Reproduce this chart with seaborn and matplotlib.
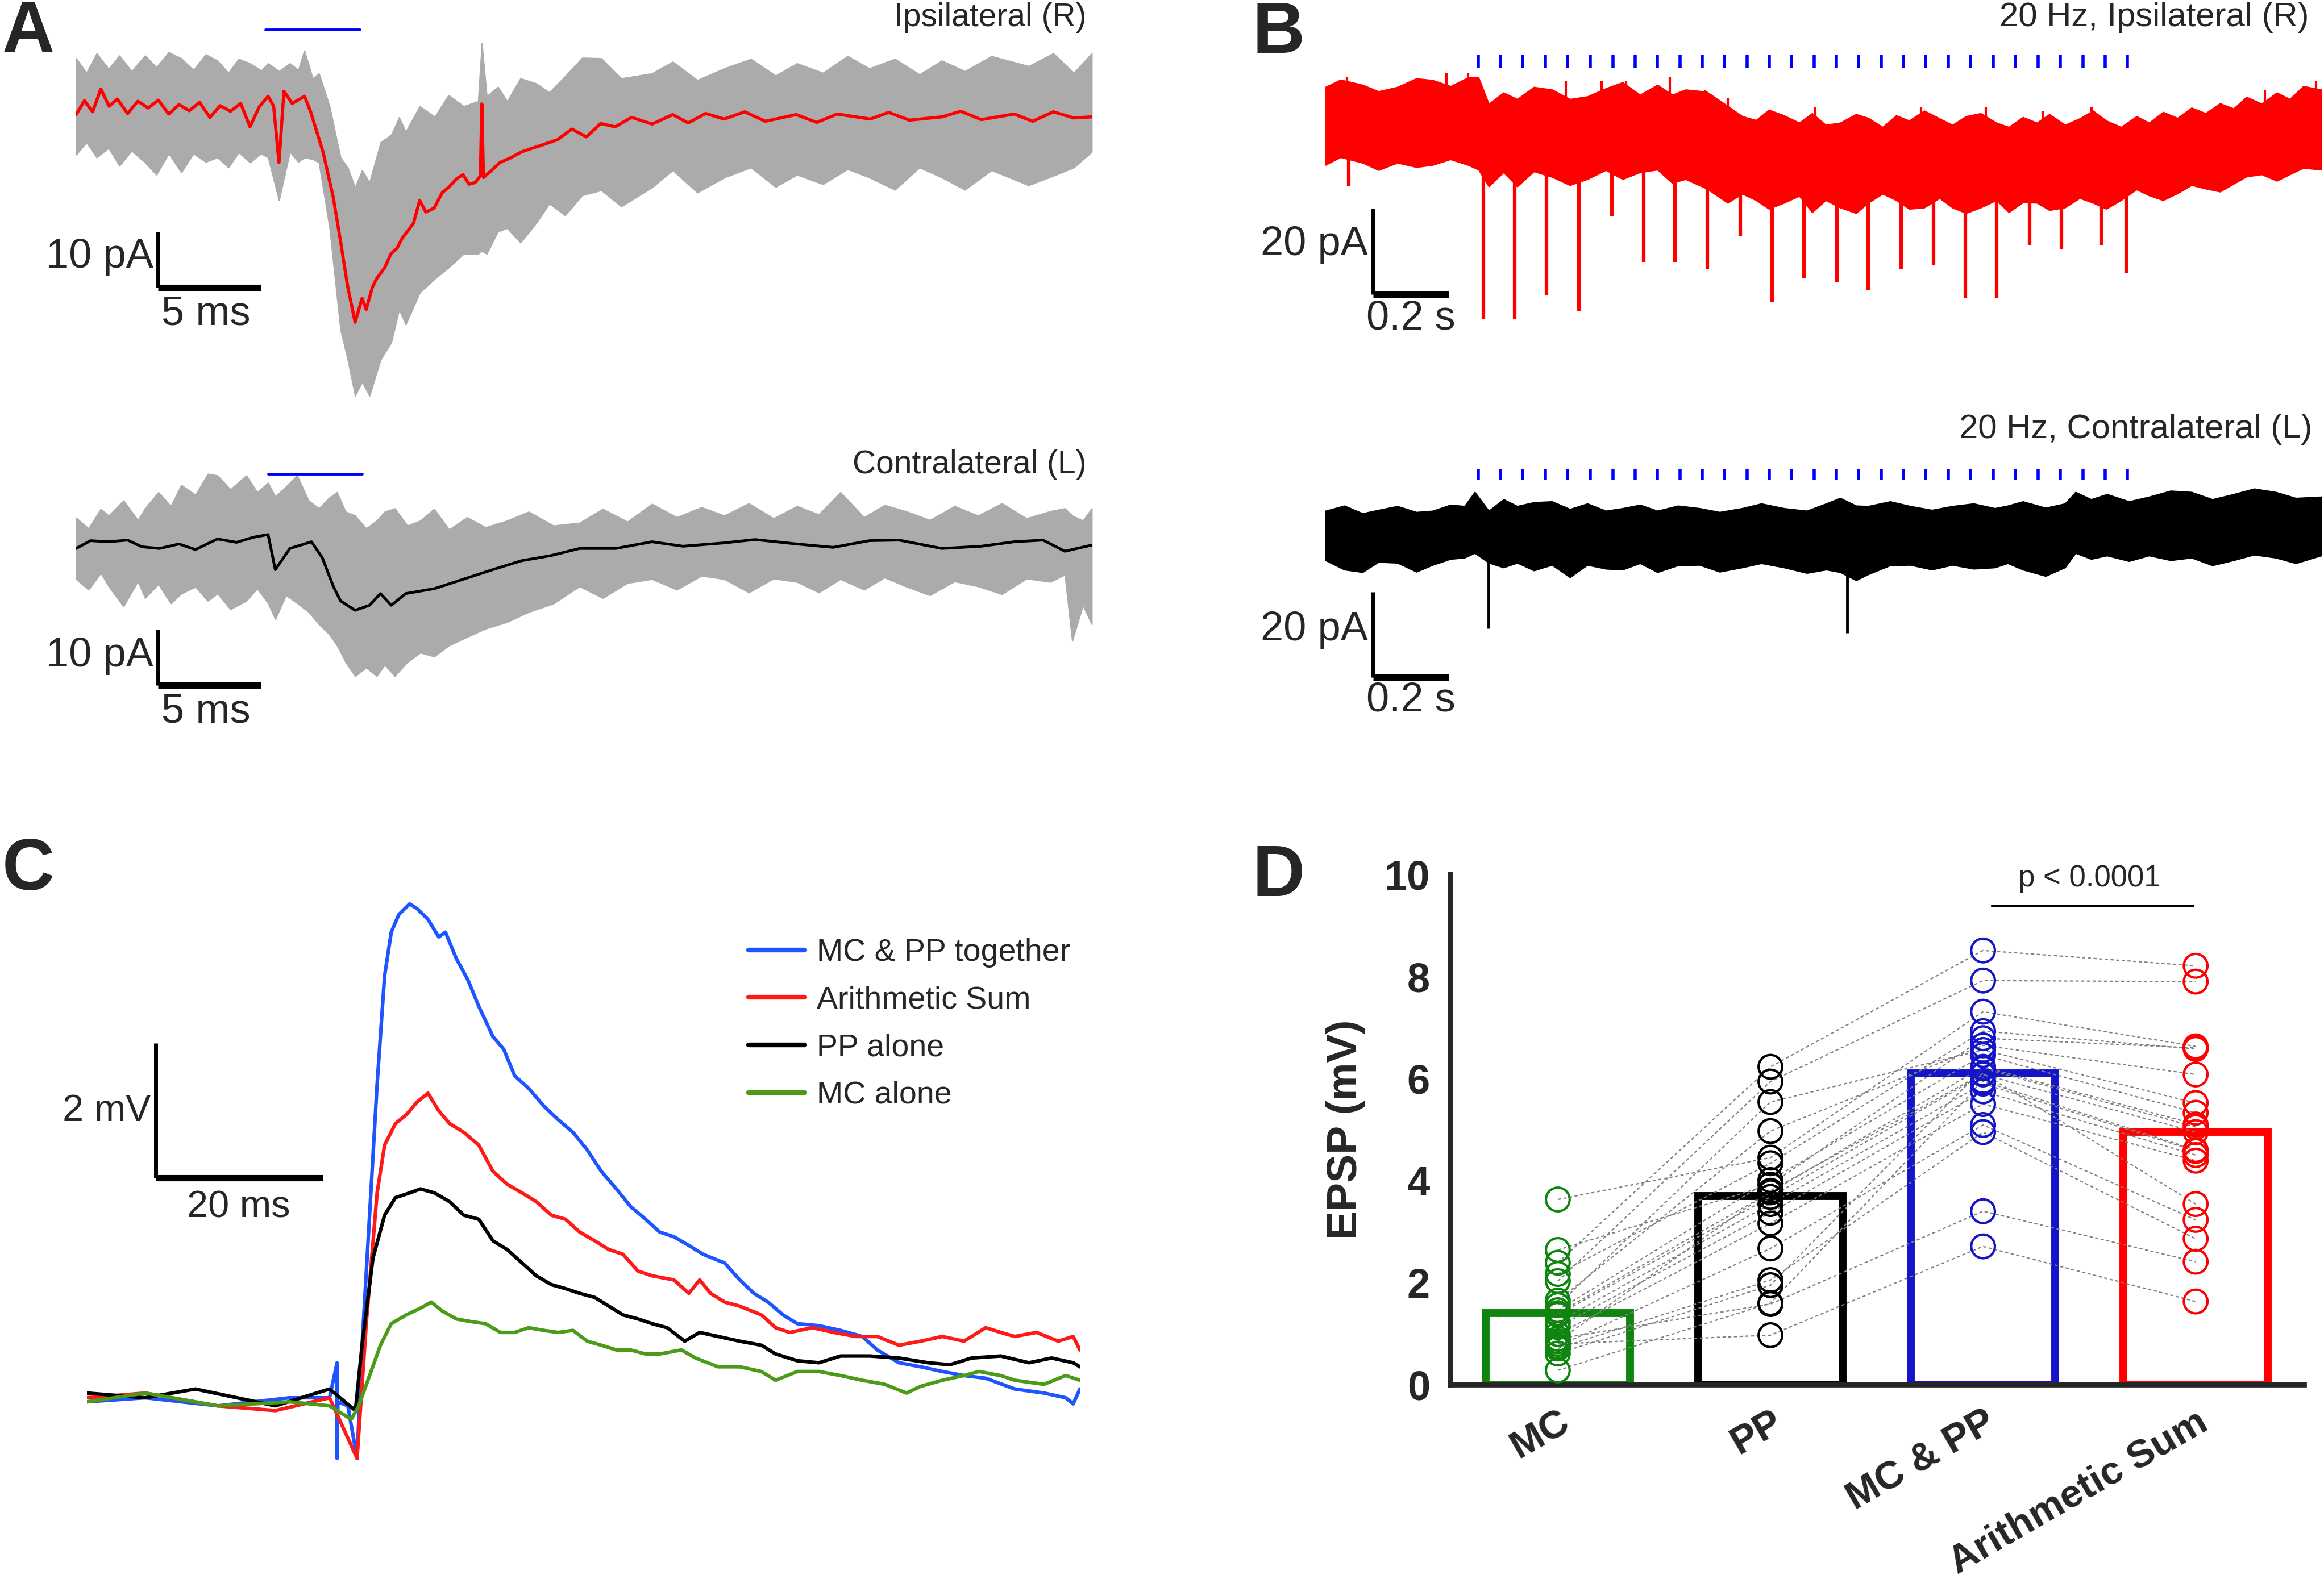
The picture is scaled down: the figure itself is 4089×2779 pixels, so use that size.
import numpy as np
import pandas as pd
import matplotlib
matplotlib.use("Agg")
import matplotlib.pyplot as plt
import seaborn as sns

W, H = 4089, 2779

# ---------------- panel A : light-evoked EPSCs (ms, pA) ----------------
a_ipsi_t = [0.0, 0.4, 0.8, 1.2, 1.6, 2.0, 2.5, 3.0, 3.5, 4.0,
            4.5, 5.0, 5.5, 6.0, 6.5, 7.0, 7.5, 8.0, 8.45, 8.9,
            9.33, 9.6, 9.86, 10.1, 10.5, 11.1, 11.4, 11.7, 12.0, 12.5,
            12.85, 13.2, 13.56, 13.9, 14.1, 14.4, 14.6, 15.0, 15.3, 15.6,
            15.85, 16.1, 16.4, 16.7, 17.0, 17.4, 17.8, 18.1, 18.5, 18.8,
            19.1, 19.4, 19.65, 19.72, 19.8, 20.2, 20.6, 21.1, 21.65, 22.2,
            22.7, 23.4, 24.1, 24.8, 25.5, 26.2, 27.0, 28.0, 29.0, 29.75,
            30.6, 31.5, 32.5, 33.5, 35.0, 36.0, 37.0, 38.6, 39.5, 40.5,
            42.1, 43.0, 44.0, 45.6, 46.5, 47.5, 48.5, 49.4]
a_ipsi_pa = [-1.0, 1.5, -0.5, 3.6, 0.5, 1.8, -0.8, 1.4, 0.2, 1.6,
             -0.9, 0.8, -0.3, 1.2, -1.5, 0.6, -0.4, 1.0, -3.2, 0.4,
             2.3, 0.5, -9.6, 3.2, 1.0, 2.3, -0.5, -4.1, -7.7, -15.9,
             -23.7, -31.9, -38.3, -34.0, -36.0, -32.0, -30.5, -28.5, -26.0, -25.0,
             -23.2, -22.0, -20.5, -16.4, -18.5, -17.8, -15.0, -14.1, -12.5, -11.8,
             -13.5, -13.2, -12.0, 0.9, -12.3, -11.0, -9.6, -8.8, -7.7, -7.0,
             -6.4, -5.5, -3.6, -5.0, -2.6, -3.2, -1.5, -2.7, -1.0, -2.5,
             -0.8, -1.8, -0.5, -2.2, -1.0, -2.4, -0.9, -1.8, -0.6, -2.0,
             -1.4, -0.4, -1.9, -0.9, -2.2, -0.5, -1.6, -1.4]
# spread of the individual grey sweeps (upper / lower edge)
a_ipsi_env_t = [0, 0.5, 1.0, 1.58, 2.1, 2.7, 3.35, 3.9, 4.5, 5.11,
                5.7, 6.3, 6.87, 7.4, 7.9, 8.45, 9.0, 9.33, 9.86, 10.39,
                10.8, 11.09, 11.5, 11.8, 12.32, 12.85, 13.2, 13.56, 13.9, 14.26,
                14.8, 15.32, 15.7, 16.02, 16.7, 17.43, 18.1, 18.84, 19.54, 19.72,
                19.96, 20.5, 20.95, 21.6, 22.36, 23.0, 23.77, 24.6, 25.53, 26.5,
                27.99, 29.0, 30.2, 31.51, 32.8, 34.0, 35.04, 36.3, 37.5, 38.56,
                39.8, 41.0, 42.08, 43.2, 44.5, 46.3, 47.5, 48.5, 49.37]
a_ipsi_env_hi = [9.1, 6.5, 10.0, 7.2, 9.6, 6.8, 9.6, 7.5, 10.2, 9.1,
                 7.0, 9.8, 8.7, 6.5, 9.0, 8.2, 6.9, 8.2, 6.8, 8.2,
                 7.0, 10.5, 5.5, 6.4, 0.5, -8.7, -10.5, -14.1, -11.0, -13.2,
                 -6.0, -4.6, -1.5, -4.1, 0.5, -1.4, 2.5, 0.5, 1.4, 11.8,
                 2.3, 4.0, 1.4, 5.5, 4.6, 3.0, 5.9, 9.2, 9.1, 5.5,
                 6.4, 8.5, 5.2, 7.3, 9.0, 6.0, 8.2, 6.5, 9.5, 7.3,
                 9.0, 6.2, 8.7, 6.8, 9.5, 7.7, 10.0, 6.5, 10.0]
a_ipsi_env_lo = [-8.2, -6.0, -8.7, -7.0, -10.2, -7.5, -9.6, -11.8, -8.0, -11.4,
                 -8.0, -9.5, -8.7, -10.5, -7.8, -9.6, -8.0, -8.7, -16.4, -7.7,
                 -9.5, -8.7, -9.0, -9.6, -21.4, -39.6, -45.0, -51.5, -49.0, -51.5,
                 -45.0, -41.9, -36.0, -38.7, -33.0, -30.5, -28.5, -26.0, -26.0, -25.5,
                 -26.0, -22.0, -21.4, -24.0, -20.5, -17.0, -19.1, -15.5, -14.6, -17.5,
                 -14.1, -11.0, -15.0, -12.3, -10.5, -14.0, -11.8, -13.5, -10.8, -12.3,
                 -14.5, -10.5, -12.3, -14.5, -11.0, -13.7, -12.0, -10.5, -7.7]

a_contra_t = [0.0, 0.7, 1.58, 2.5, 3.2, 4.05, 5.0, 5.8, 6.87, 7.8,
              8.6, 9.33, 9.68, 10.39, 11.44, 11.97, 12.5, 12.85, 13.56, 14.26,
              14.79, 15.32, 16.02, 17.43, 18.84, 20.25, 21.65, 23.06, 24.47, 26.23,
              27.99, 29.5, 31.51, 33.0, 35.04, 36.8, 38.56, 40.0, 42.08, 44.0,
              45.6, 47.0, 48.06, 49.37]
a_contra_pa = [-0.6, 0.8, 0.6, 0.9, -0.3, -0.6, 0.2, -0.8, 1.1, 0.5,
               1.4, 1.9, -4.4, -0.6, 0.6, -2.3, -7.4, -10.0, -11.7, -10.8,
               -8.7, -10.8, -8.7, -7.8, -6.1, -4.4, -2.8, -1.9, -0.6, -0.6,
               0.6, -0.2, 0.4, 1.0, 0.2, -0.4, 0.8, 0.9, -0.6, -0.2,
               0.6, 0.9, -1.1, 0.0]
a_contra_env_t = [0, 0.6, 1.2, 1.58, 2.3, 3.0, 3.35, 4.0, 4.6, 5.11,
                  5.8, 6.4, 6.87, 7.5, 8.27, 8.8, 9.33, 9.68, 10.2, 10.74,
                  11.3, 11.8, 12.3, 12.68, 13.1, 13.56, 14.1, 14.61, 15.0, 15.49,
                  16.1, 16.73, 17.4, 18.13, 19.0, 19.9, 20.95, 22.0, 23.2, 24.47,
                  25.6, 26.8, 27.99, 29.2, 30.4, 31.51, 32.7, 33.9, 35.04, 36.1,
                  37.15, 38.3, 39.3, 40.32, 41.5, 42.7, 43.84, 45.0, 46.2, 47.36,
                  48.06, 48.42, 48.94, 49.37]
a_contra_env_hi = [4.9, 3.0, 6.5, 5.3, 8.0, 4.5, 6.6, 9.5, 7.0, 10.8,
                   9.0, 12.8, 12.5, 10.0, 12.5, 9.5, 11.2, 8.7, 10.5, 12.5,
                   8.0, 6.6, 8.5, 9.5, 6.0, 5.3, 3.0, 4.4, 6.0, 6.6,
                   3.5, 4.4, 6.5, 2.8, 5.0, 3.2, 4.4, 6.0, 3.5, 4.0,
                   6.5, 4.2, 7.4, 5.0, 6.8, 5.3, 7.5, 4.8, 7.0, 5.5,
                   9.5, 5.0, 7.2, 6.1, 4.5, 7.0, 5.3, 7.5, 4.8, 6.1,
                   6.6, 5.3, 4.4, 6.6]
a_contra_env_lo = [-6.1, -8.0, -5.0, -7.4, -11.0, -6.5, -9.5, -7.0, -10.5, -8.7,
                   -7.5, -10.0, -8.7, -11.5, -10.0, -7.8, -10.4, -13.3, -9.0, -10.4,
                   -12.0, -14.2, -16.0, -18.0, -21.0, -23.5, -22.0, -23.5, -21.5, -23.5,
                   -21.0, -19.3, -20.0, -18.0, -16.5, -15.0, -13.8, -12.0, -10.5, -7.4,
                   -9.5, -6.8, -6.1, -8.0, -5.5, -6.1, -8.5, -6.0, -6.6, -8.5,
                   -6.1, -8.0, -5.8, -7.4, -9.0, -6.5, -7.4, -8.8, -6.0, -6.6,
                   -5.3, -17.2, -10.8, -14.2]

# ---------------- panel B : 20 Hz trains (s, pA) ----------------
b_stim_t = [0.403, 0.462, 0.521, 0.580, 0.639, 0.698, 0.758, 0.817, 0.876, 0.935,
            0.994, 1.053, 1.112, 1.171, 1.230, 1.289, 1.348, 1.407, 1.466, 1.525,
            1.584, 1.643, 1.702, 1.762, 1.821, 1.880, 1.939, 1.998, 2.057, 2.116]

b_ipsi_env_t = [0.0, 0.04, 0.098, 0.14, 0.190, 0.24, 0.283, 0.33, 0.376, 0.404,
                0.431, 0.47, 0.506, 0.55, 0.598, 0.645, 0.691, 0.74, 0.784, 0.83,
                0.876, 0.915, 0.950, 1.006, 1.061, 1.10, 1.136, 1.17, 1.210, 1.25,
                1.284, 1.32, 1.358, 1.40, 1.432, 1.47, 1.506, 1.54, 1.580, 1.62,
                1.654, 1.69, 1.729, 1.77, 1.803, 1.84, 1.877, 1.91, 1.951, 1.99,
                2.025, 2.06, 2.099, 2.14, 2.173, 2.21, 2.248, 2.285, 2.322, 2.36,
                2.396, 2.43, 2.470, 2.51, 2.544, 2.58, 2.627]
b_ipsi_hi = [8.8, 10.5, 9.3, 7.8, 8.8, 10.8, 10.4, 9.0, 11.0, 11.0,
             4.9, 7.5, 6.0, 8.8, 8.2, 6.0, 6.6, 8.5, 9.9, 7.0,
             9.3, 7.0, 8.2, 7.7, 4.4, 2.0, 1.1, 3.5, 2.2, 0.5,
             2.7, 0.0, 0.5, 2.5, 1.6, -0.5, 2.2, 1.0, 3.3, 1.5,
             0.0, 2.0, 2.7, 0.5, -0.5, 1.8, 0.5, 2.5, 0.0, 1.5,
             3.3, 1.0, -0.5, 2.0, 0.5, 3.0, 1.6, 4.0, 2.7, 5.0,
             3.8, 6.5, 4.9, 7.5, 6.0, 9.0, 8.2]
b_ipsi_lo = [-9.3, -7.5, -8.8, -10.5, -8.8, -9.8, -9.3, -8.0, -9.3, -10.4,
             -14.3, -11.0, -14.3, -10.8, -12.1, -14.0, -12.6, -10.5, -12.6, -11.0,
             -10.4, -13.5, -12.6, -14.8, -18.1, -16.0, -17.5, -19.5, -18.1, -16.5,
             -20.3, -17.5, -19.2, -20.5, -18.1, -16.0, -17.5, -19.5, -19.2, -17.0,
             -19.2, -20.5, -19.2, -17.5, -20.3, -18.0, -18.1, -19.8, -19.2, -17.0,
             -18.1, -19.5, -17.5, -15.0, -16.4, -17.5, -15.9, -14.0, -14.8, -15.5,
             -13.7, -12.0, -11.5, -13.0, -11.5, -10.0, -10.4]
b_ipsi_peak_t = [0.057, 0.320, 0.376, 0.635, 0.728, 0.793, 0.909, 1.002, 1.061, 1.293,
                 1.571, 1.743, 1.892, 2.021, 2.479, 2.614]
b_ipsi_peak_pa = [11.0, 12.1, 12.1, 10.1, 10.1, 10.1, 11.0, 8.2, 6.3, 4.1,
                  4.1, 4.1, 3.3, 4.1, 8.2, 10.1]
b_ipsi_epsc_t = [0.062, 0.4165, 0.500, 0.583, 0.669, 0.756, 0.839, 0.922, 1.008, 1.095,
                 1.178, 1.262, 1.349, 1.432, 1.519, 1.605, 1.688, 1.771, 1.858, 1.942,
                 2.047, 2.112]
b_ipsi_epsc_pa = [-14.3, -45.0, -45.0, -39.5, -43.3, -21.1, -31.8, -31.8, -33.4, -25.8,
                  -41.1, -35.6, -36.5, -38.4, -33.4, -32.6, -40.3, -40.3, -28.0, -28.8,
                  -28.0, -34.5]

b_contra_env_t = [0.0, 0.05, 0.098, 0.14, 0.190, 0.24, 0.283, 0.33, 0.367, 0.394,
                  0.431, 0.47, 0.506, 0.55, 0.598, 0.645, 0.691, 0.74, 0.784, 0.83,
                  0.876, 0.93, 0.987, 1.04, 1.099, 1.15, 1.210, 1.27, 1.321, 1.358,
                  1.40, 1.432, 1.49, 1.543, 1.60, 1.654, 1.71, 1.766, 1.80, 1.840,
                  1.90, 1.951, 1.979, 2.02, 2.062, 2.12, 2.173, 2.23, 2.285, 2.34,
                  2.396, 2.45, 2.507, 2.56, 2.627]
b_contra_hi = [5.8, 7.0, 5.2, 6.0, 6.9, 5.5, 5.8, 7.2, 6.9, 10.2,
               5.8, 8.5, 6.9, 7.8, 8.0, 6.2, 7.5, 5.8, 6.4, 7.2,
               5.8, 7.0, 6.4, 5.5, 6.4, 7.5, 6.4, 5.8, 7.5, 8.8,
               7.0, 6.9, 8.0, 6.9, 6.0, 6.9, 7.5, 6.4, 7.0, 8.0,
               6.5, 7.5, 10.2, 8.5, 9.7, 8.0, 9.1, 10.5, 10.2, 8.5,
               9.7, 11.0, 10.2, 8.8, 9.1]
b_contra_lo = [-5.8, -8.0, -8.6, -6.2, -6.4, -8.5, -6.9, -5.5, -5.2, -4.1,
               -6.4, -7.5, -6.4, -8.2, -6.9, -9.8, -6.9, -7.8, -8.0, -6.5,
               -8.6, -7.0, -6.9, -8.5, -7.5, -6.5, -7.5, -8.8, -8.0, -8.6,
               -10.5, -9.1, -7.0, -6.9, -8.0, -6.9, -7.8, -7.5, -6.5, -8.0,
               -9.5, -7.5, -4.1, -5.5, -4.7, -6.0, -4.7, -5.8, -5.2, -7.0,
               -5.8, -4.5, -5.2, -6.5, -4.7]
b_contra_epsc_t = [0.431, 1.376]
b_contra_epsc_pa = [-21.8, -22.9]

# ---------------- panel C : EPSPs (ms, mV) ----------------
c_labels = ["MC & PP together", "Arithmetic Sum", "PP alone", "MC alone"]
c_colors = ["#1f55ff", "#ff1a1a", "#000000", "#4c9a1a"]
c_blue_t = [0.0, 7.0, 15.7, 24.3, 29.1, 30.0, 30.0, 30.1, 31.3, 32.4,
            33.0, 33.9, 34.8, 35.7, 36.5, 37.4, 38.7, 39.6, 40.9, 42.2,
            43.0, 44.3, 45.7, 47.0, 48.7, 50.0, 51.3, 53.0, 54.8, 56.5,
            58.3, 60.0, 61.7, 63.5, 65.2, 67.0, 68.7, 70.4, 72.2, 73.9,
            76.5, 78.3, 80.0, 81.7, 83.5, 85.2, 87.8, 90.4, 93.0, 94.8,
            97.4, 100.0, 102.6, 105.2, 107.8, 111.3, 114.8, 117.4, 118.3, 119.1]
c_blue_mv = [0.0, 0.06, -0.06, 0.06, 0.06, 0.58, -0.84, 0.0, -0.06, -0.84,
             0.84, 2.77, 4.71, 6.32, 6.97, 7.23, 7.39, 7.32, 7.16, 6.90,
             6.97, 6.58, 6.26, 5.87, 5.42, 5.23, 4.84, 4.65, 4.39, 4.19,
             4.00, 3.74, 3.42, 3.16, 2.90, 2.71, 2.52, 2.45, 2.32, 2.19,
             2.06, 1.81, 1.61, 1.48, 1.29, 1.16, 1.13, 1.06, 0.97, 0.77,
             0.58, 0.52, 0.45, 0.39, 0.35, 0.19, 0.13, 0.06, -0.03, 0.19]
c_red_t = [0.0, 7.0, 15.7, 22.6, 29.1, 32.4, 33.5, 34.8, 35.7, 37.0,
           38.3, 39.6, 40.9, 42.2, 43.5, 45.2, 47.0, 48.7, 50.4, 52.2,
           53.9, 55.7, 57.4, 59.1, 60.9, 62.6, 64.3, 66.1, 67.8, 70.4,
           72.2, 73.5, 74.8, 76.5, 78.3, 80.9, 82.6, 84.3, 87.0, 89.6,
           92.2, 94.8, 97.4, 100.0, 102.6, 105.2, 107.8, 109.6, 111.3, 113.9,
           116.5, 118.3, 119.1]
c_red_mv = [0.06, 0.13, -0.06, -0.13, 0.06, -0.84, 1.16, 3.10, 3.81, 4.13,
            4.26, 4.45, 4.58, 4.32, 4.13, 4.00, 3.81, 3.42, 3.23, 3.10,
            2.97, 2.77, 2.71, 2.52, 2.39, 2.26, 2.19, 1.94, 1.87, 1.81,
            1.61, 1.81, 1.61, 1.48, 1.42, 1.29, 1.10, 1.03, 1.10, 1.03,
            0.97, 0.97, 0.84, 0.90, 0.97, 0.90, 1.10, 1.03, 0.97, 1.03,
            0.90, 0.97, 0.77]
c_black_t = [0.0, 7.0, 13.0, 22.6, 29.1, 32.2, 33.0, 34.3, 35.7, 37.0,
             38.7, 40.0, 41.7, 43.5, 45.2, 47.0, 48.7, 50.4, 52.2, 53.9,
             55.7, 57.4, 59.1, 60.9, 62.6, 64.3, 66.1, 67.8, 69.6, 71.7,
             73.5, 75.7, 78.3, 80.9, 82.6, 85.2, 87.8, 90.4, 93.9, 97.4,
             100.9, 103.5, 106.1, 109.6, 113.0, 115.7, 118.3, 119.1]
c_black_mv = [0.13, 0.06, 0.19, -0.06, 0.19, -0.13, 0.84, 2.13, 2.77, 3.03,
              3.10, 3.16, 3.10, 2.97, 2.77, 2.71, 2.39, 2.26, 2.06, 1.87,
              1.74, 1.68, 1.61, 1.55, 1.42, 1.29, 1.23, 1.16, 1.10, 0.90,
              1.03, 0.97, 0.90, 0.84, 0.71, 0.61, 0.58, 0.68, 0.68, 0.65,
              0.58, 0.55, 0.65, 0.68, 0.58, 0.65, 0.58, 0.52]
c_green_t = [0.0, 7.0, 15.7, 24.3, 29.1, 31.7, 32.6, 33.9, 35.2, 36.5,
             38.3, 40.0, 41.3, 42.6, 44.3, 46.1, 47.8, 49.6, 51.3, 53.0,
             54.8, 56.5, 58.3, 60.0, 61.7, 63.5, 65.2, 67.0, 68.7, 71.3,
             73.0, 75.7, 78.3, 80.9, 82.6, 85.2, 87.8, 90.4, 93.0, 95.7,
             98.3, 100.0, 102.6, 105.2, 107.0, 109.6, 111.3, 114.8, 117.4, 119.1]
c_green_mv = [0.0, 0.13, -0.06, 0.0, -0.06, -0.26, -0.06, 0.39, 0.84, 1.16,
              1.29, 1.39, 1.48, 1.35, 1.23, 1.19, 1.16, 1.03, 1.03, 1.10,
              1.06, 1.03, 1.06, 0.90, 0.84, 0.77, 0.77, 0.71, 0.71, 0.77,
              0.65, 0.52, 0.52, 0.45, 0.32, 0.45, 0.45, 0.39, 0.32, 0.26,
              0.13, 0.23, 0.32, 0.39, 0.45, 0.39, 0.32, 0.26, 0.39, 0.32]

# ---------------- panel D : EPSP amplitudes (mV) ----------------
d_categories = ["MC", "PP", "MC & PP", "Arithmetic Sum"]
d_colors = ["#0f850f", "#000000", "#1414c8", "#ff0000"]
d_bar_means = [1.4, 3.7, 6.1, 4.95]
d_mc = [2.39, 2.03, 3.63, 2.17, 2.64, 1.65, 1.56, 1.46, 1.40, 1.37,
        1.23, 1.13, 0.99, 0.85, 0.75, 0.71, 0.61, 0.28, 0.90, 0.80]
d_pp = [6.23, 5.94, 4.45, 4.34, 3.92, 4.97, 5.54, 4.01, 3.77, 3.68,
        3.54, 3.37, 3.16, 3.80, 2.67, 2.05, 1.95, 1.60, 1.58, 0.97]
d_mcpp = [8.51, 7.92, 7.31, 6.93, 6.79, 6.65, 6.56, 6.46, 6.23, 6.08,
          5.90, 5.75, 5.50, 6.10, 5.09, 4.95, 6.20, 5.95, 3.40, 2.71]
d_sum = [8.21, 7.90, 6.63, 6.58, 6.60, 6.08, 5.52, 5.33, 5.10, 4.95,
         4.58, 4.50, 4.39, 3.54, 3.23, 2.86, 5.05, 4.60, 2.41, 1.63]

# ------------------------------------------------------------------
sns.set_style("white")
plt.rcParams["font.family"] = ["Liberation Sans", "DejaVu Sans"]

fig = plt.figure(figsize=(W / 100, H / 100), dpi=100)


def px_axes(x0, y0, x1, y1):
    return fig.add_axes([x0 / W, 1 - y1 / H, (x1 - x0) / W, (y1 - y0) / H])


def trace_axes(box, xlim, ylim):
    ax = px_axes(*box)
    ax.set_xlim(xlim)
    ax.set_ylim(ylim)
    ax.axis("off")
    return ax


def scale_bar(ax, x, y, dx, dy, xlab, ylab, ylab_pos, xlab_pos, size):
    ax.plot([x, x], [y, y + dy], color="black", lw=5, solid_capstyle="butt", clip_on=False)
    ax.plot([x, x + dx], [y, y], color="black", lw=8, solid_capstyle="butt", clip_on=False)
    ax.text(*ylab_pos, ylab, ha="right", va="center", fontsize=size)
    ax.text(*xlab_pos, xlab, ha="center", va="center", fontsize=size)


grey = "#ababab"

# A, ipsilateral
ax = trace_axes((134, 40, 1922, 720), (0, 49.4), (-53.9, 15.5))
ax.fill_between(a_ipsi_env_t, a_ipsi_env_lo, a_ipsi_env_hi, color=grey, lw=1.5)
ax.plot(a_ipsi_t, a_ipsi_pa, color="#ff0000", lw=4)
ax.plot([9.2, 13.8], [14.3, 14.3], color="#0000ff", lw=3.5, clip_on=False)
ax.text(49.1, 16.4, "Ipsilateral (R)", ha="right", va="center", fontsize=41)
scale_bar(ax, 3.98, -32.1, 5, 10, "5 ms", "10 pA", (3.75, -26.6), (6.3, -36.9), 52)

# A, contralateral
ax = trace_axes((134, 780, 1922, 1230), (0, 49.4), (-27.6, 18.3))
ax.fill_between(a_contra_env_t, a_contra_env_lo, a_contra_env_hi, color=grey, lw=1.5)
ax.plot(a_contra_t, a_contra_pa, color="black", lw=3.5)
ax.plot([9.33, 13.9], [12.8, 12.8], color="#0000ff", lw=3.5, clip_on=False)
ax.text(49.1, 14.4, "Contralateral (L)", ha="right", va="center", fontsize=41)
scale_bar(ax, 3.98, -25.2, 5, 10, "5 ms", "10 pA", (3.75, -19.9), (6.3, -29.9), 52)

# B, ipsilateral train
ax = trace_axes((2332, 60, 4084, 600), (0, 2.627), (-50.2, 21.1))
ax.fill_between(b_ipsi_env_t, b_ipsi_lo, b_ipsi_hi, color="#ff0000", lw=1.5)
ax.vlines(b_ipsi_peak_t, 0, b_ipsi_peak_pa, color="#ff0000", lw=3)
ax.vlines(b_ipsi_epsc_t, b_ipsi_epsc_pa, 0, color="#ff0000", lw=4.5)
ax.vlines(b_stim_t, 13.2, 16.4, color="#0000ff", lw=4, clip_on=False)
ax.text(2.595, 25.0, "20 Hz, Ipsilateral (R)", ha="right", va="center", fontsize=43)
scale_bar(ax, 0.1256, -39.4, 0.2, 20, "0.2 s", "20 pA", (0.112, -27.8), (0.226, -45.0), 52)

# B, contralateral train
ax = trace_axes((2332, 770, 4084, 1250), (0, 2.627), (-41.0, 23.0))
ax.fill_between(b_contra_env_t, b_contra_lo, b_contra_hi, color="black", lw=1.5)
ax.vlines(b_contra_epsc_t, b_contra_epsc_pa, 0, color="black", lw=3.5)
ax.vlines(b_stim_t, 13.1, 15.5, color="#0000ff", lw=4, clip_on=False)
ax.text(2.603, 24.9, "20 Hz, Contralateral (L)", ha="right", va="center", fontsize=43)
scale_bar(ax, 0.1256, -33.2, 0.2, 20, "0.2 s", "20 pA", (0.112, -22.1), (0.226, -38.8), 52)

# C, EPSP traces
c_frames = []
for lab, t, v in zip(c_labels, [c_blue_t, c_red_t, c_black_t, c_green_t],
                     [c_blue_mv, c_red_mv, c_black_mv, c_green_mv]):
    c_frames.append(pd.DataFrame({"t": t, "mV": v, "cond": lab}))
c_df = pd.concat(c_frames, ignore_index=True)

ax = trace_axes((153, 1560, 1900, 2600), (0, 119.1), (-1.12, 7.65))
sns.lineplot(data=c_df, x="t", y="mV", hue="cond", hue_order=c_labels,
             palette=c_colors, sort=False, estimator=None, lw=4.5, ax=ax)
old = ax.get_legend()
handles = old.legend_handles
labels = [t.get_text() for t in old.get_texts()]
leg = ax.legend(handles, labels, loc="upper left",
                bbox_to_anchor=(1317 / W, 1 - 1651 / H), bbox_transform=fig.transFigure,
                frameon=False, borderpad=0, borderaxespad=0, handlelength=1.78,
                handletextpad=0.38, labelspacing=0.57, fontsize=40)
for ln in leg.get_lines():
    ln.set_linewidth(6)
scale_bar(ax, 8.26, 3.32, 20, 2, "20 ms", "2 mV", (7.7, 4.31), (18.2, 2.88), 48)

# D, bar chart with paired points
ax = px_axes(2552, 1539, 4054, 2437)
sns.barplot(x=d_categories, y=d_bar_means, hue=d_categories, palette=d_colors,
            fill=False, linewidth=10, width=0.68, errorbar=None, legend=False, ax=ax)
for row in zip(d_mc, d_pp, d_mcpp, d_sum):
    ax.plot(range(4), row, ls=(0, (2.5, 2)), color="#7f7f7f", lw=1.6, zorder=3)
for i, (vals, col) in enumerate(zip([d_mc, d_pp, d_mcpp, d_sum], d_colors)):
    ax.scatter(np.full(len(vals), i), vals, s=900, facecolors="none",
               edgecolors=col, linewidths=3, zorder=4, clip_on=False)
ax.set_xlim(-0.505, 3.51)
ax.set_ylim(0, 10)
sns.despine(ax=ax)
for side in ["left", "bottom"]:
    ax.spines[side].set_linewidth(7)
ax.tick_params(axis="y", width=7, length=20, direction="out", pad=6)
ax.tick_params(axis="x", width=7, length=20, direction="out", pad=4)
ax.set_yticks([0, 2, 4, 6, 8, 10])
ax.set_yticklabels(["0", "2", "4", "6", "8", "10"], fontsize=52, fontweight="bold")
ax.set_xticks(range(4))
ax.set_xticklabels(d_categories, rotation=30, ha="right", rotation_mode="anchor",
                   fontsize=50, fontweight="bold")
ax.set_xlabel("")
ax.set_ylabel("EPSP (mV)", fontsize=54, fontweight="bold", labelpad=24)
ax.plot([2.04, 2.99], [9.39, 9.39], color="black", lw=2.5, clip_on=False)
ax.text(2.5, 9.92, "p < 0.0001", ha="center", va="center", fontsize=38)

# panel letters
for letter, x, y in [("A", 0.001, 1.0), ("B", 0.539, 1.0), ("C", 0.001, 0.47), ("D", 0.539, 0.466)]:
    fig.text(x, y, letter, ha="left", va="top", fontsize=92, fontweight="bold")

fig.savefig("out.png", dpi=100)
